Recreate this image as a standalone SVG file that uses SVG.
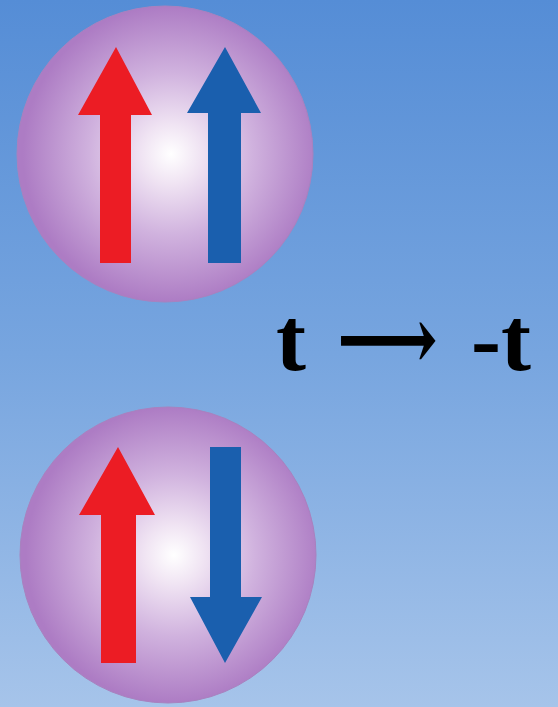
<svg xmlns="http://www.w3.org/2000/svg" width="558" height="707" viewBox="0 0 558 707">
<defs>
<linearGradient id="bg" x1="0" y1="0" x2="0" y2="1">
<stop offset="0" stop-color="#558dd6"/>
<stop offset="0.5" stop-color="#77a5df"/>
<stop offset="1" stop-color="#a6c4ea"/>
</linearGradient>
<radialGradient id="sph" cx="0.52" cy="0.5" r="0.5" fx="0.52" fy="0.5">
<stop offset="0" stop-color="#ffffff"/>
<stop offset="0.2" stop-color="#f0e4f3"/>
<stop offset="0.55" stop-color="#d0b2de"/>
<stop offset="1" stop-color="#ad7cc4"/>
</radialGradient>
<style>
.sphere{fill:url(#sph);stroke:#a882bf;stroke-width:1}
.red{fill:#ec1c24}
.blue{fill:#1a5fae}
.lbl{font-family:"Liberation Serif","DejaVu Serif",serif;font-weight:bold;font-size:90px;fill:#000}
</style>
</defs>
<rect x="0" y="0" width="558" height="707" fill="url(#bg)"/>
<g id="particle-top">
<circle class="sphere" cx="165" cy="154" r="148"/>
<polygon class="red" points="116,47 152,115 131,115 131,263 100,263 100,115 78,115"/>
<polygon class="blue" points="225,47 261,113 241,113 241,263 208,263 208,113 187,113"/>
</g>
<g id="particle-bottom">
<circle class="sphere" cx="168" cy="555" r="148"/>
<polygon class="red" points="118,447 155,515 136,515 136,663 101,663 101,515 79,515"/>
<polygon class="blue" points="210,447 241,447 241,597 262,597 225,663 190,597 210,597"/>
</g>
<g id="label">
<text class="lbl" x="276" y="370">t</text>
<text class="lbl" x="337" y="370" font-weight="normal" textLength="101" lengthAdjust="spacingAndGlyphs">⟶</text>
<text class="lbl" x="471" y="370">-t</text>
</g>
</svg>
